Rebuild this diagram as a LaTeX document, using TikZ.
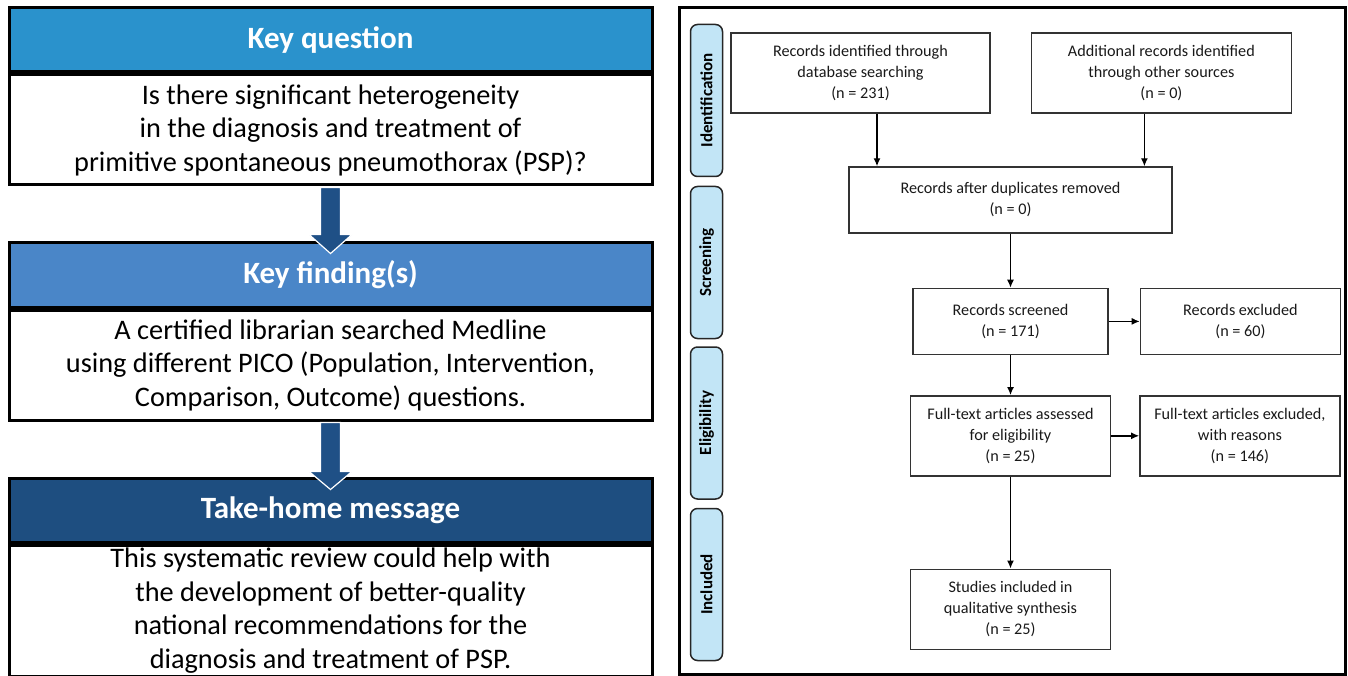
\documentclass[tikz,border=0pt]{standalone}
\usepackage{fontspec}
\setmainfont{Carlito}
\usetikzlibrary{arrows.meta, positioning, calc}
\definecolor{kqblue}{RGB}{42,146,204}
\definecolor{kfblue}{RGB}{74,134,200}
\definecolor{thblue}{RGB}{30,78,128}
\definecolor{arrblue}{RGB}{31,80,134}
\definecolor{sideblue}{RGB}{194,229,246}
\tikzset{
    %Define standard arrow tip
    >={Latex[length=8pt,width=7pt]},
    %Define style for the coloured headers
    titel/.style={
           rectangle,
           draw=black, line width=3pt,
           fill=kqblue,
           minimum width=643pt,
           minimum height=64pt,
           text=white,
           font=\fontsize{31}{34}\selectfont\bfseries},
    %Define style for the text under a header
    corps/.style={
           rectangle,
           draw=black, line width=3pt,
           minimum width=643pt,
           align=center,
           font=\fontsize{28.3}{33.5}\selectfont},
    %Define style for the phase tabs
    phase/.style={
           rectangle,
           rounded corners=7pt,
           draw=black!85, line width=1.5pt,
           fill=sideblue,
           minimum width=152pt,
           minimum height=32pt,
           rotate=90,
           font=\fontsize{17}{19}\selectfont\bfseries},
    %Define style for the flow boxes
    boite/.style={
           rectangle,
           draw=black!80, line width=1.4pt,
           minimum height=66pt,
           align=center,
           text=black!90,
           font=\fontsize{16.2}{21}\selectfont},
    % Define arrow styles
    pil/.style={
           ->,
           line width=1.4pt},
    grosse/.style={
           fill=arrblue,
           draw=white, line width=1.2pt}
}
\begin{document}
\begin{tikzpicture}[x=1pt, y=-1pt]
	\useasboundingbox (0,0) rectangle (1348,676);
	%
	% colonne gauche
	%
	\node[titel] (question) at (330.5,40) {Key question};
	\node[corps, minimum height=110pt, below=0pt of question] (questxt) {Is there significant heterogeneity\\ in the diagnosis and treatment of\\ primitive spontaneous pneumothorax (PSP)?};
	\node[titel, fill=kfblue] (resultat) at (330.5,275) {Key finding(s)};
	\node[corps, minimum height=110pt, below=0pt of resultat] (restxt) {A certified librarian searched Medline\\ using different PICO (Population, Intervention,\\ Comparison, Outcome) questions.};
	\node[titel, fill=thblue] (message) at (330.5,510) {Take-home message};
	\node[corps, minimum height=131pt, below=0pt of message] (msgtxt) {This systematic review could help with\\ the development of better-quality\\ national recommendations for the\\ diagnosis and treatment of PSP.};
	%
	% grosses fleches
	%
	\filldraw[grosse] ($(questxt.south)+(-10,1)$) -- ($(questxt.south)+(10,1)$) -- ($(questxt.south)+(10,48)$) -- ($(questxt.south)+(21.5,48)$) -- ($(resultat.north)+(0,12)$) -- ($(questxt.south)+(-21.5,48)$) -- ($(questxt.south)+(-10,48)$) -- cycle;
	\filldraw[grosse] ($(restxt.south)+(-10,1)$) -- ($(restxt.south)+(10,1)$) -- ($(restxt.south)+(10,50)$) -- ($(restxt.south)+(21.5,50)$) -- ($(message.north)+(0,13)$) -- ($(restxt.south)+(-21.5,50)$) -- ($(restxt.south)+(-10,50)$) -- cycle;
	%
	% cadre droit
	%
	\draw[line width=3pt] (679,8) rectangle (1345,674);
	\node[phase] (ident) at (706.5,100.5) {Identification};
	\node[phase] (screen) at (706.5,262.5) {Screening};
	\node[phase] (elig) at (706.5,423) {Eligibility};
	\node[phase] (incl) at (706.5,584.5) {Included};
	%
	% noeuds
	%
	\node[boite, minimum width=259pt, minimum height=80pt] (base) at (860.5,73) {Records identified through\\ database searching\\ (n = 231)};
	\node[boite, minimum width=260pt, minimum height=80pt, right=40pt of base] (autres) {Additional records identified\\ through other sources\\ (n = 0)};
	\node[boite, minimum width=323pt] (doublons) at (1010.5,200) {Records after duplicates removed\\ (n = 0)};
	\node[boite, minimum width=195pt, below=54pt of doublons] (tri) {Records screened\\ (n = 171)};
	\node[boite, minimum width=200pt, right=31pt of tri] (exclus) {Records excluded\\ (n = 60)};
	\node[boite, minimum width=200pt, minimum height=80pt, below=40pt of tri] (texte) {Full-text articles assessed\\ for eligibility\\ (n = 25)};
	\node[boite, minimum width=200pt, minimum height=80pt, right=28pt of texte] (rejet) {Full-text articles excluded,\\ with reasons\\ (n = 146)};
	\node[boite, minimum width=200pt, minimum height=80pt, below=92pt of texte] (inclus) {Studies included in\\ qualitative synthesis\\ (n = 25)};
	%
	% Liens
	%
	\path (base.south) ++(16.5,0) coordinate (b1);
	\path (autres.south) ++(-17,0) coordinate (b2);
	\draw[pil] (b1) -- (b1 |- doublons.north);
	\draw[pil] (b2) -- (b2 |- doublons.north);
	\draw[pil] (doublons) -- (tri);
	\draw[pil] (tri) -- (exclus);
	\draw[pil] (tri) -- (texte);
	\draw[pil] (texte) -- (rejet);
	\draw[pil] (texte) -- (inclus);
\end{tikzpicture}
\end{document}
